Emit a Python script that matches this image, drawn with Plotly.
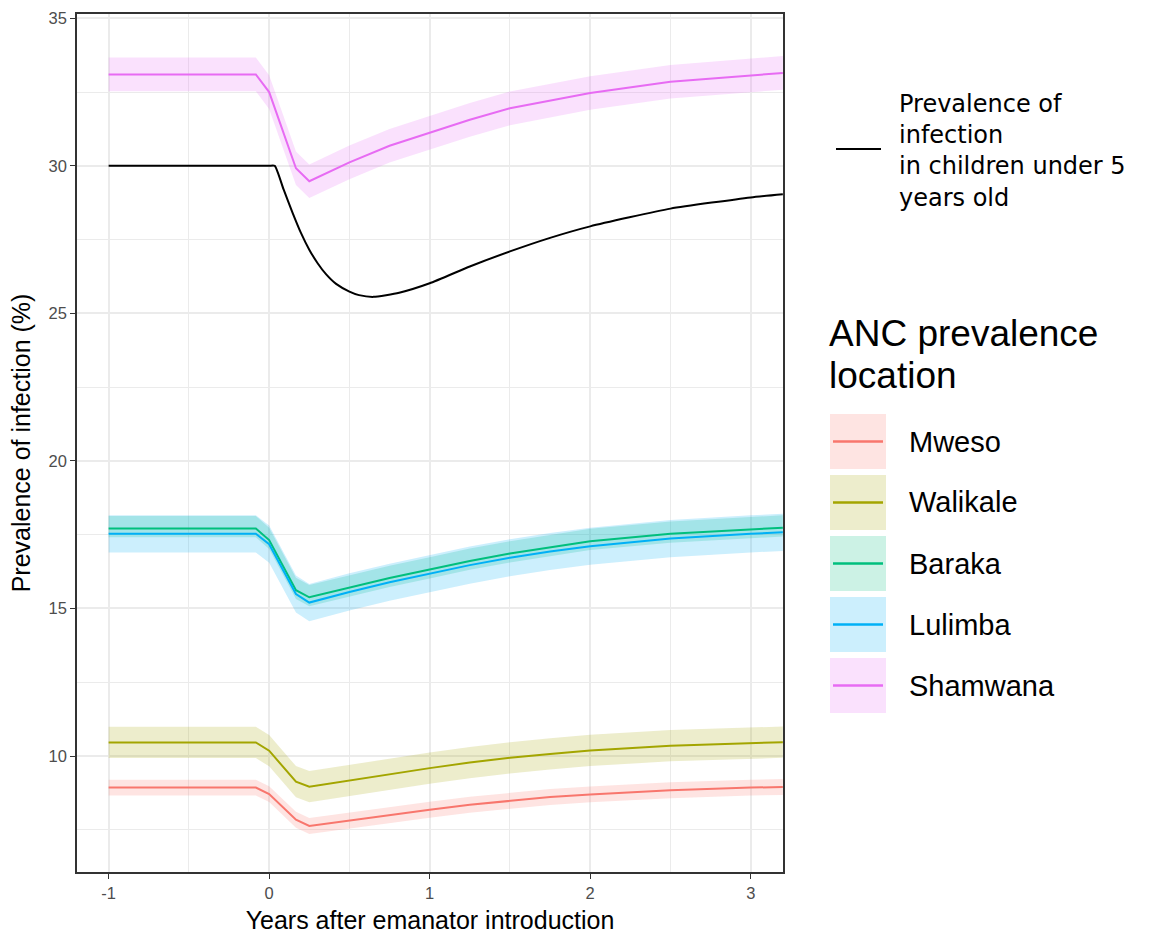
import plotly.graph_objects as go

# ---------------- data ----------------
years = [-1, -0.083, 0, 0.167, 0.25, 0.5, 0.75, 1, 1.25, 1.5, 1.75, 2, 2.5, 3, 3.2]
mweso = [8.93, 8.93, 8.71, 7.84, 7.63, 7.82, 8.01, 8.18, 8.35, 8.49, 8.61, 8.70, 8.84, 8.93, 8.95]
walikale = [10.46, 10.46, 10.18, 9.13, 8.96, 9.17, 9.39, 9.59, 9.78, 9.94, 10.07, 10.19, 10.35, 10.45, 10.47]
baraka = [17.71, 17.71, 17.32, 15.62, 15.38, 15.71, 16.03, 16.32, 16.61, 16.86, 17.08, 17.28, 17.53, 17.69, 17.74]
lulimba = [17.53, 17.53, 17.18, 15.49, 15.20, 15.56, 15.89, 16.19, 16.47, 16.72, 16.93, 17.11, 17.37, 17.53, 17.58]
shamwana = [33.10, 33.10, 32.50, 29.92, 29.48, 30.12, 30.68, 31.13, 31.56, 31.95, 32.22, 32.47, 32.85, 33.08, 33.15]

locations = ["Mweso", "Walikale", "Baraka", "Lulimba", "Shamwana"]
series = [mweso, walikale, baraka, lulimba, shamwana]
band_upper = [0.27, 0.53, 0.42, 0.63, 0.57]
band_lower = [0.27, 0.53, 0.30, 0.63, 0.57]
colors = ["#F8766D", "#A3A500", "#00BF7D", "#00B0F6", "#E76BF3"]

child_years = [-1, -0.5, -0.1, 0.0, 0.035, 0.09, 0.146, 0.198, 0.25, 0.302, 0.354, 0.417, 0.5, 0.56, 0.65,
               0.81, 1.0, 1.25, 1.5, 1.75, 2, 2.5, 3, 3.2]
child_prev = [30, 30, 30, 30, 30, 29.2, 28.41, 27.73, 27.16, 26.70, 26.33, 26.0, 25.74, 25.62, 25.56,
              25.70, 26.02, 26.59, 27.1, 27.56, 27.95, 28.55, 28.93, 29.04]
child_label = "Prevalence of<br>infection<br>in children under 5<br>years old"

x_ticks = [-1, 0, 1, 2, 3]
y_ticks = [10, 15, 20, 25, 30, 35]


def rgba(hex_color, a):
    h = hex_color.lstrip("#")
    r, g, b = int(h[0:2], 16), int(h[2:4], 16), int(h[4:6], 16)
    return f"rgba({r},{g},{b},{a})"


fig = go.Figure()

# ribbons
for name, vals, up, lo, col in zip(locations, series, band_upper, band_lower, colors):
    fig.add_trace(go.Scatter(x=years, y=[v + up for v in vals], mode="lines",
                             line=dict(width=0), showlegend=False, hoverinfo="skip"))
    fig.add_trace(go.Scatter(x=years, y=[v - lo for v in vals], mode="lines",
                             line=dict(width=0), fill="tonexty",
                             fillcolor=rgba(col, 0.2), showlegend=False, hoverinfo="skip"))

# lines
for name, vals, col in zip(locations, series, colors):
    fig.add_trace(go.Scatter(x=years, y=vals, mode="lines", name=name,
                             line=dict(color=col, width=2), showlegend=False))

fig.add_trace(go.Scatter(x=child_years, y=child_prev, mode="lines",
                         name="Prevalence of infection in children under 5 years old",
                         line=dict(color="black", width=2, shape="spline", smoothing=0.5),
                         showlegend=False))

# ---------------- layout ----------------
L, R, T, B = 77, 366, 14, 64
W, H = 1149, 936
PW, PH = W - L - R, H - T - B


def px(xp):
    return (xp - L) / PW


def py(yp):
    return (H - B - yp) / PH


axis_common = dict(
    showline=True, linecolor="#333333", linewidth=1.5, mirror=True,
    ticks="outside", ticklen=5, tickcolor="#333333", tickwidth=1.2,
    showgrid=True, gridcolor="#EBEBEB", gridwidth=1.6,
    zeroline=False, automargin=False,
    tickfont=dict(family="Liberation Sans, Arial, sans-serif", size=16.5, color="#4D4D4D"),
)

fig.update_layout(
    width=W, height=H,
    margin=dict(l=L, r=R, t=T, b=B, pad=0),
    paper_bgcolor="white", plot_bgcolor="white",
    showlegend=False,
    font=dict(family="Liberation Sans, Arial, sans-serif", color="black"),
    xaxis=dict(
        range=[-1.197, 3.201], tickvals=x_ticks, ticktext=[str(v) for v in x_ticks],
        minor=dict(dtick=0.5, tick0=0, showgrid=True, gridcolor="#EBEBEB", gridwidth=0.8, ticks=""),
        title=dict(text="Years after emanator introduction",
                   font=dict(size=25, color="black"), standoff=11),
        **axis_common,
    ),
    yaxis=dict(
        range=[6.07, 35.146], tickvals=y_ticks, ticktext=[str(v) for v in y_ticks],
        minor=dict(dtick=2.5, tick0=0, showgrid=True, gridcolor="#EBEBEB", gridwidth=0.8, ticks=""),
        title=dict(text="Prevalence of infection (%)",
                   font=dict(size=25, color="black"), standoff=11),
        **axis_common,
    ),
)

shapes = []
annotations = []

# legend for the children's prevalence line
shapes.append(dict(type="line", xref="paper", yref="paper",
                   x0=px(836), x1=px(881), y0=py(149), y1=py(149),
                   line=dict(color="black", width=2.2)))
annotations.append(dict(xref="paper", yref="paper", x=px(897), y=py(151),
                        xanchor="left", yanchor="middle", align="left", showarrow=False,
                        text=child_label,
                        font=dict(family="DejaVu Sans", size=24, color="black")))

# legend for ANC locations
annotations.append(dict(xref="paper", yref="paper", x=px(827), y=py(333),
                        xanchor="left", yanchor="middle", showarrow=False,
                        text="ANC prevalence",
                        font=dict(family="Liberation Sans, Arial", size=37, color="black")))
annotations.append(dict(xref="paper", yref="paper", x=px(827), y=py(375),
                        xanchor="left", yanchor="middle", showarrow=False,
                        text="location",
                        font=dict(family="Liberation Sans, Arial", size=37, color="black")))

key_top0, key_pitch, key_w, key_h = 414, 61, 56, 55
for i, (name, col) in enumerate(zip(locations, colors)):
    top = key_top0 + i * key_pitch
    cy = top + key_h / 2
    shapes.append(dict(type="rect", xref="paper", yref="paper",
                       x0=px(830), x1=px(830 + key_w), y0=py(top), y1=py(top + key_h),
                       fillcolor=rgba(col, 0.2), line=dict(width=0), layer="above"))
    shapes.append(dict(type="line", xref="paper", yref="paper",
                       x0=px(833), x1=px(883), y0=py(cy), y1=py(cy),
                       line=dict(color=col, width=2.6), layer="above"))
    annotations.append(dict(xref="paper", yref="paper", x=px(907), y=py(cy),
                            xanchor="left", yanchor="middle", showarrow=False,
                            text=name,
                            font=dict(family="Liberation Sans, Arial", size=29, color="black")))

fig.update_layout(shapes=shapes, annotations=annotations)

fig.write_html("out.html")
